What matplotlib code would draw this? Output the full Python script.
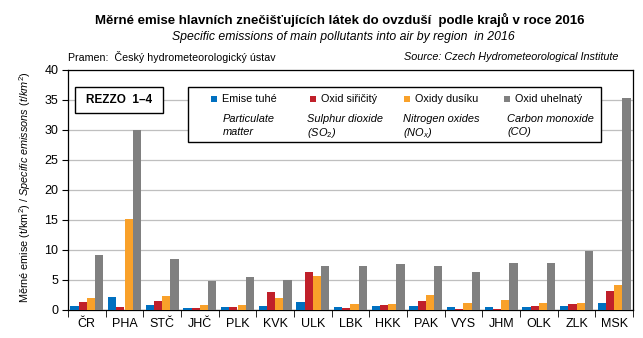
import numpy as np
import matplotlib
matplotlib.use("Agg")
import matplotlib.pyplot as plt
from matplotlib.patches import Rectangle

plt.rcParams['font.family'] = ['Liberation Sans', 'DejaVu Sans']
plt.rcParams['mathtext.fontset'] = 'custom'
plt.rcParams['mathtext.rm'] = 'Liberation Sans'
plt.rcParams['mathtext.it'] = 'Liberation Sans:italic'

# kraje a měrné emise (t/km2)
kraje = ['ČR', 'PHA', 'STČ', 'JHČ', 'PLK', 'KVK', 'ULK', 'LBK',
         'HKK', 'PAK', 'VYS', 'JHM', 'OLK', 'ZLK', 'MSK']
emise_tuhe = [0.67, 2.2, 0.83, 0.33, 0.5, 0.67, 1.33, 0.5,
              0.67, 0.67, 0.5, 0.5, 0.5, 0.67, 1.17]
oxid_siricity = [1.4, 0.5, 1.5, 0.33, 0.5, 3.0, 6.33, 0.33,
                 0.83, 1.5, 0.17, 0.17, 0.67, 1.0, 3.17]
oxidy_dusiku = [2.0, 15.2, 2.3, 0.83, 0.83, 2.0, 5.67, 1.0,
                1.0, 2.5, 1.17, 1.67, 1.17, 1.17, 4.17]
oxid_uhelnaty = [9.2, 30.0, 8.5, 4.8, 5.5, 5.0, 7.33, 7.33,
                 7.67, 7.33, 6.33, 7.83, 7.83, 9.83, 35.3]

nazvy_cz = ['Emise tuhé', 'Oxid siřičitý', 'Oxidy dusíku', 'Oxid uhelnatý']
nazvy_en = [('Particulate', 'matter'), ('Sulphur dioxide', '(SO$_2$)'),
            ('Nitrogen oxides', '(NO$_x$)'), ('Carbon monoxide', '(CO)')]
barvy = ['#0070C0', '#C0202A', '#F9A12A', '#808080']

W, H = 643, 338
fig = plt.figure(figsize=(W / 100, H / 100), dpi=100)
ax = fig.add_axes([68 / W, (H - 310) / H, 565 / W, 240 / H])

x = np.arange(len(kraje))
sirka = 0.22
rady = [emise_tuhe, oxid_siricity, oxidy_dusiku, oxid_uhelnaty]
for i, (hodnoty, barva) in enumerate(zip(rady, barvy)):
    ax.bar(x + (i - 1.5) * sirka, hodnoty, width=sirka, color=barva,
           zorder=3, linewidth=0)

ax.set_xlim(-0.5, len(kraje) - 0.5)
ax.set_ylim(0, 40)
ax.set_yticks(range(0, 41, 5))
ax.tick_params(axis='y', direction='out', length=4, labelsize=9, pad=3)
ax.set_xticks(x)
ax.set_xticklabels(kraje, fontsize=9)
ax.tick_params(axis='x', length=0, pad=6)
ax.set_xticks(np.arange(-0.5, len(kraje), 1), minor=True)
ax.tick_params(axis='x', which='minor', direction='out', length=5)
ax.grid(axis='y', color='#BFBFBF', linewidth=0.9, zorder=0)
for s in ax.spines.values():
    s.set_color('black')
    s.set_linewidth(0.9)

fig.text(25 / W, 1 - 187 / H,
         'Měrné emise (t/km$^2$) / $\\it{Specific\\ emissons\\ (t/km^2)}$',
         rotation=90, ha='center', va='center', fontsize=7.8)

# nadpisy
fig.text(340 / W, 1 - 20 / H,
         'Měrné emise hlavních znečišťujících látek do ovzduší  podle krajů v roce 2016',
         ha='center', va='center', fontsize=9.5, fontweight='bold')
fig.text(343 / W, 1 - 37 / H,
         'Specific emissions of main pollutants into air by region  in 2016',
         ha='center', va='center', fontsize=8.8, style='italic')
fig.text(68 / W, 1 - 57 / H, 'Pramen:  Český hydrometeorologický ústav',
         ha='left', va='center', fontsize=7.7)
fig.text(618 / W, 1 - 57 / H, 'Source: Czech Hydrometeorological Institute',
         ha='right', va='center', fontsize=7.8, style='italic')

# rámeček REZZO
fig.patches.append(Rectangle((75 / W, 1 - 113 / H), 88 / W, 26 / H,
                             transform=fig.transFigure, facecolor='white',
                             edgecolor='black', linewidth=1, zorder=5))
fig.text(119 / W, 1 - 100 / H, 'REZZO  1–4', ha='center', va='center',
         fontsize=8.5, fontweight='bold', zorder=6)

# legenda
fig.patches.append(Rectangle((188 / W, 1 - 142 / H), 413 / W, 55 / H,
                             transform=fig.transFigure, facecolor='white',
                             edgecolor='black', linewidth=1, zorder=5))
leg_x = [214, 313, 407, 507]
en_x = [223, 307, 403, 507]
for lx, ex, cz, en, barva in zip(leg_x, en_x, nazvy_cz, nazvy_en, barvy):
    fig.patches.append(Rectangle(((lx - 3) / W, 1 - 102 / H), 6 / W, 6 / H,
                                 transform=fig.transFigure, facecolor=barva,
                                 edgecolor='none', zorder=6))
    fig.text((lx + 8) / W, 1 - 99 / H, cz, ha='left', va='center',
             fontsize=7.8, zorder=6)
    for j, radek in enumerate(en):
        fig.text(ex / W, 1 - (118 + 13 * j) / H, radek, ha='left',
                 va='center_baseline', fontsize=7.9, style='italic', zorder=6)

fig.savefig('out.png', dpi=100)
